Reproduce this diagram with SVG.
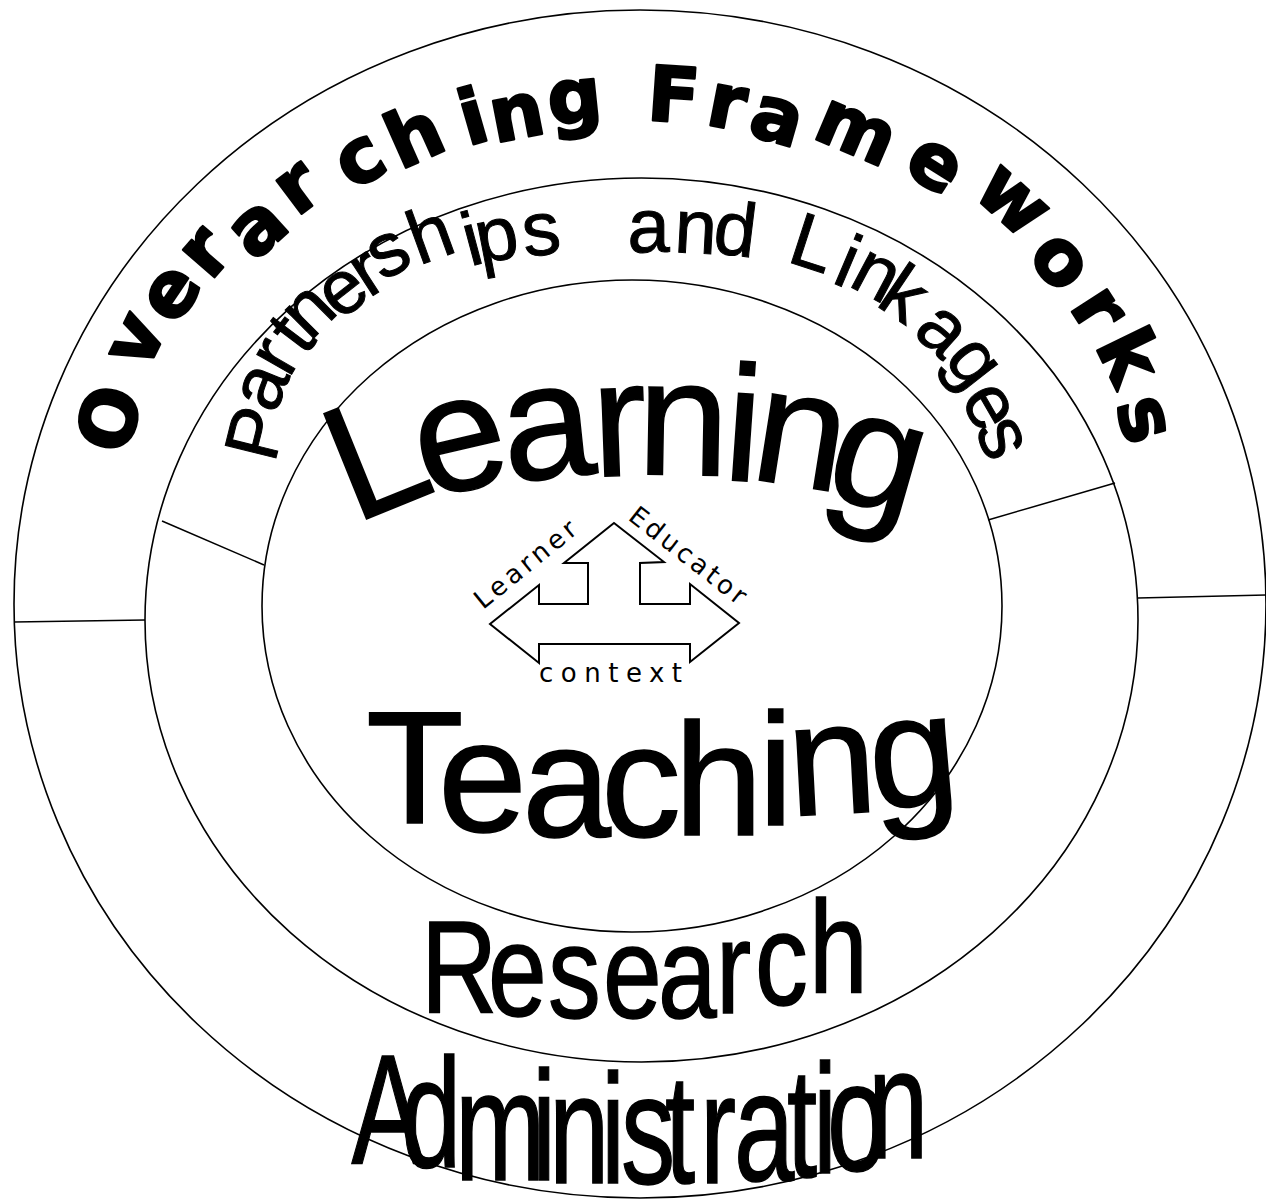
<svg xmlns="http://www.w3.org/2000/svg" width="1266" height="1200" viewBox="0 0 1266 1200">
<style>
.ring{fill:none;stroke:#000;stroke-width:1.6}
.div{fill:none;stroke:#000;stroke-width:1.5}
.arrow{fill:none;stroke:#000;stroke-width:2;stroke-linejoin:miter}
.ov{font-family:"DejaVu Sans",sans-serif;font-weight:bold;font-size:76px;fill:#000;stroke:#000;stroke-width:2.5;stroke-linejoin:round}
.pl{font-family:"Liberation Sans",Arial,sans-serif;font-size:76px;fill:#000;stroke:#000;stroke-width:1}
.big{font-family:"Liberation Sans",Arial,sans-serif;fill:#000;stroke:#000;stroke-width:1.5}
.hand{font-family:"DejaVu Sans",sans-serif;font-size:26px;fill:#000}
</style>
<rect width="1266" height="1200" fill="#fff"/>
<g id="outer-ring">
<ellipse class="ring" cx="640" cy="604" rx="626" ry="594"/>
<text class="ov" x="126 146 175.6 210.3 254.2 296.6 352.1 400.2 467.4 494.8 550 620 645.9 704.2 746 810.6 901 971 1026 1068.5 1094.5 1115.4" y="457 373 327.5 282 262.5 217.5 191.2 170.2 146 143 125.2 110 119.8 124 134 137 170.5 194 255.5 306.5 345 404" rotate="-74 -64 -56 -49 -42 -37 -30 -24 -16 -11 -6 0 4 11 16 23 32 42 51 57 64 74">Overarching Frameworks</text>
</g>
<g id="middle-ring">
<ellipse class="ring" cx="641.5" cy="620" rx="496.5" ry="442"/>
<text class="pl" x="274.5 274.8 289 305 310 340 368.8 382 419 470 480.2 525 570 627.5 673.5 711.5 770 785.5 830.5 847 874.5 911.5 943 959.5 974.5" y="464 415 379 357 342 321.5 298.5 281.5 265.5 266.5 264 257 255 252 252 252.5 250 261 282 285 304.5 333 359.5 399 429" rotate="-76 -68 -60 -53 -45 -38 -33 -28 -20 -15 -11 -7 0 0 3 7 10 18 23 28 34 42 52 60 67">Partnerships and Linkages</text>
</g>
<g id="inner-circle">
<ellipse class="ring" cx="632" cy="606" rx="370" ry="326"/>
<text class="big" font-size="165" x="354 426 506.9 593.5 636.5 721.6 748.1 820.8" y="524 499 482.4 476.8 474 479.6 478.2 494.4" rotate="-22 -13 -6 -2 1 4 9 16">Learning</text>
<text class="big" font-size="160" x="366 438 522 601 674 758 790 873" y="823 831 836 836 835 825 816 810" rotate="0 0 0 0 0 0 -3 -5">Teaching</text>
</g>
<g id="research">
<text class="big" font-size="132" transform="scale(0.8,1)" x="526.3 610 685 753.8 822.5 895 943.8 1011.3" y="1013 1016 1018 1018 1018 1013 1005 993">Research</text>
</g>
<g id="administration">
<text class="big" font-size="155" transform="scale(0.7,1)" x="502 572.9 650 760 784.3 858.6 887.1 950 1000 1048.6 1124.3 1161.4 1181.4 1240" y="1163 1167 1180 1180 1183 1183 1183 1183 1183 1180 1177 1173 1170 1158">Administration</text>
</g>
<g id="center-arrow">
<polygon class="arrow" points="614,523 664,562 640,563 640,604 690,604 690,584 739,623 690,662 690,644 539,644 539,663 490,624 539,585 539,604 588,604 588,563 564,563"/>
<text class="hand" letter-spacing="4" transform="translate(483,610) rotate(-39)">Learner</text>
<text class="hand" letter-spacing="3.5" transform="translate(627,519) rotate(38)">Educator</text>
<text class="hand" letter-spacing="7.5" x="539" y="682">context</text>
</g>
<g id="connectors">
<line class="div" x1="14" y1="622" x2="145" y2="620"/>
<line class="div" x1="162" y1="521" x2="264" y2="565"/>
<line class="div" x1="988" y1="520" x2="1115" y2="483"/>
<line class="div" x1="1138" y1="598" x2="1266" y2="595"/>
</g>
</svg>
